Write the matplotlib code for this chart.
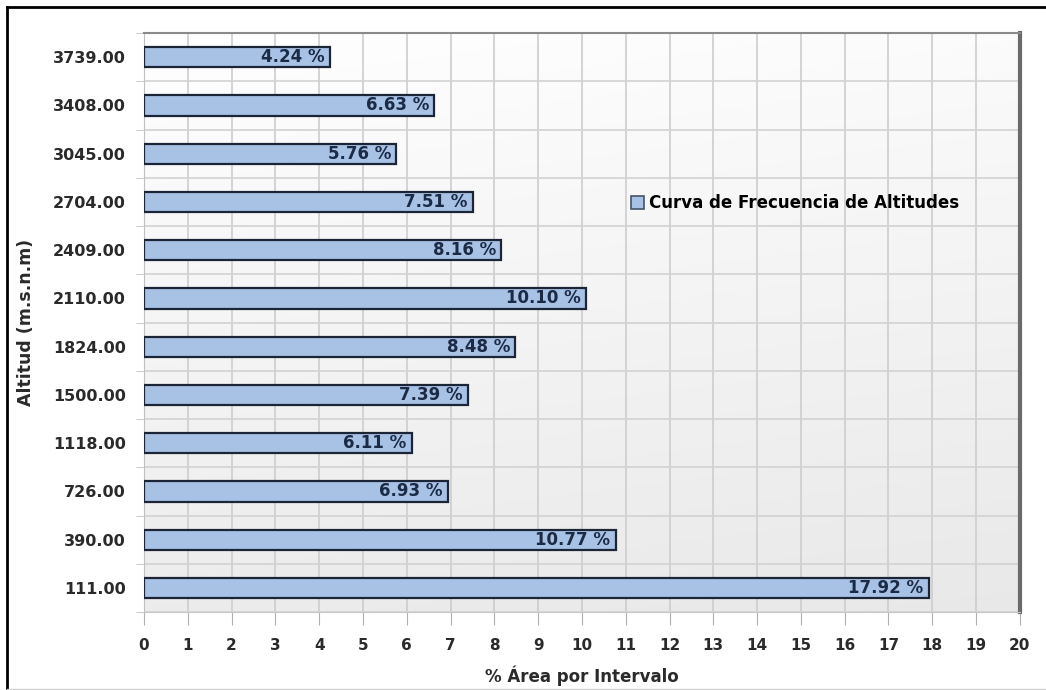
import numpy as np
import matplotlib.pyplot as plt
from matplotlib.lines import Line2D
from matplotlib.patches import Patch

plt.rcParams['font.family'] = ['DejaVu Sans']
plt.rcParams['font.weight'] = 'bold'
plt.rcParams['axes.labelweight'] = 'bold'

altitudes = ['111.00', '390.00', '726.00', '1118.00', '1500.00', '1824.00',
             '2110.00', '2409.00', '2704.00', '3045.00', '3408.00', '3739.00']
area_pct = [17.92, 10.77, 6.93, 6.11, 7.39, 8.48,
            10.10, 8.16, 7.51, 5.76, 6.63, 4.24]

bar_color = '#a8c2e6'
edge_color = '#1c2535'
text_color = '#1b2a45'
label_color = '#2a2a2a'

fig = plt.figure(figsize=(10.46, 6.90), dpi=100)
ax = fig.add_axes([0.1377, 0.113, 0.8373, 0.839])

pos = np.arange(len(altitudes))

# plot area fades from white at the top to light grey at the bottom
shade = np.linspace(0.925, 1.0, 256).reshape(-1, 1)
side = np.linspace(1.0, 0.985, 128).reshape(1, -1)
rgb = np.clip(shade * side, 0, 1)
rgb = np.dstack([rgb, rgb, rgb])
ax.imshow(rgb, extent=[0, 20, -0.5, 11.5], aspect='auto', zorder=0,
          origin='lower', interpolation='bilinear')

ax.barh(pos, area_pct, height=0.42, color=bar_color,
        edgecolor=edge_color, linewidth=1.6, zorder=3)

for y, v in zip(pos, area_pct):
    ax.text(v - 0.12, y, f'{v:.2f} %', ha='right', va='center',
            fontsize=12, fontweight='bold', color=text_color, zorder=4)

ax.set_xlim(0, 20)
ax.set_ylim(-0.5, len(altitudes) - 0.5)
ax.set_xticks(np.arange(0, 21, 1))
ax.set_yticks(pos)
ax.set_yticklabels(altitudes)
ax.set_yticks(np.arange(-0.5, len(altitudes), 1), minor=True)

ax.grid(axis='x', which='major', color='#cdcdcd', linewidth=1.2, zorder=1)
ax.grid(axis='y', which='minor', color='#d2d2d2', linewidth=1.2, zorder=1)
ax.tick_params(axis='y', which='major', length=0, pad=13, labelsize=11.5,
               labelcolor=label_color)
ax.tick_params(axis='y', which='minor', length=6, color='#c0c0c0')
ax.tick_params(axis='x', length=9, color='#b0b0b0', pad=10, labelsize=11,
               labelcolor=label_color)

ax.spines['top'].set_color('#8a8a8a')
ax.spines['top'].set_linewidth(1.5)
ax.spines['right'].set_color('#6a6a6a')
ax.spines['right'].set_linewidth(3)
ax.spines['left'].set_color('#c0c0c0')
ax.spines['bottom'].set_color('#c8c8c8')

ax.set_xlabel('% Área por Intervalo', fontsize=12, color=label_color)
ax.xaxis.set_label_coords(0.5, -0.092)
ax.set_ylabel('Altitud (m.s.n.m)', fontsize=12.5, color=label_color)
ax.yaxis.set_label_coords(-0.125, 0.5)

ax.legend(handles=[Patch(facecolor=bar_color, edgecolor='#44546a', linewidth=1.2)],
          labels=['Curva de Frecuencia de Altitudes'], loc='center left',
          bbox_to_anchor=(0.556, 0.706), frameon=False, borderpad=0,
          borderaxespad=0, handlelength=0.8, handleheight=0.8,
          handletextpad=0.3, prop={'weight': 'bold', 'size': 12})

# outer frame of the figure
fig.add_artist(Line2D([0.0065, 0.0065], [0.0, 0.99], color='black', lw=2,
                      transform=fig.transFigure))
fig.add_artist(Line2D([0.0065, 1.0], [0.99, 0.99], color='black', lw=2,
                      transform=fig.transFigure))
fig.add_artist(Line2D([0.0065, 1.0], [0.002, 0.002], color='#d0d0d0', lw=1,
                      transform=fig.transFigure))

fig.savefig('out.png', dpi=100)
